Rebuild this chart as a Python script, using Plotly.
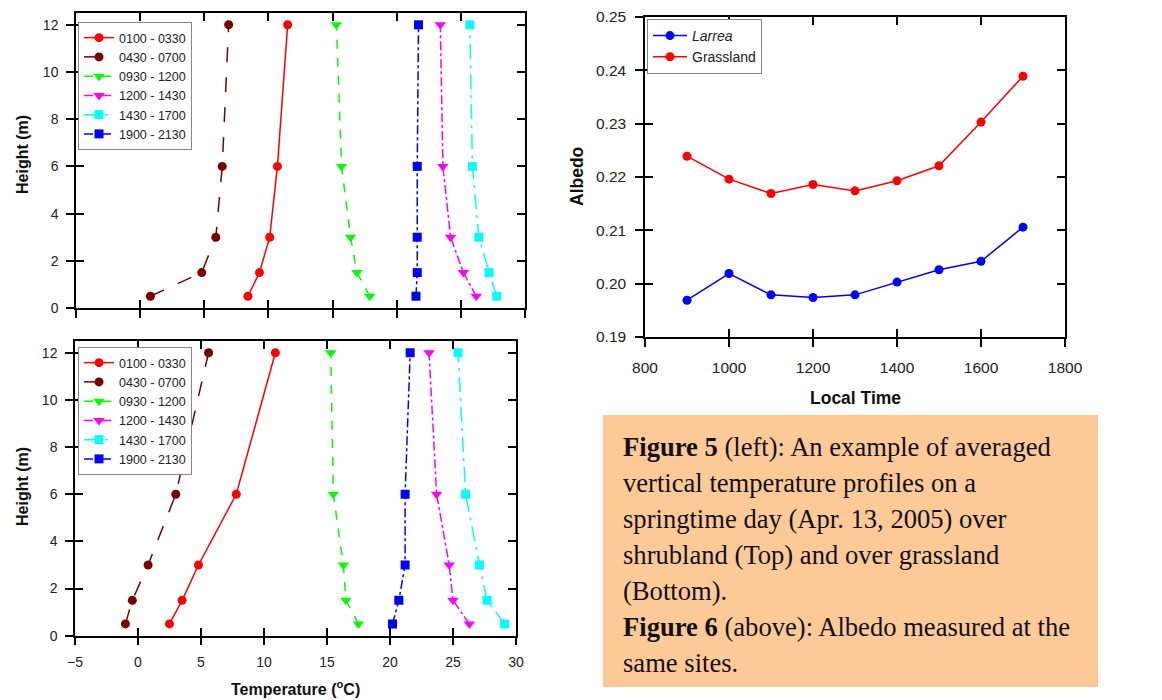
import plotly.graph_objects as go

W, H = 1162, 700

# ---------------- data ----------------
heights = [0.5, 1.5, 3, 6, 12]
periods = ["0100 - 0330", "0430 - 0700", "0930 - 1200", "1200 - 1430", "1430 - 1700", "1900 - 2130"]

# shrubland (top)
shrub_0100 = [8.4, 9.3, 10.1, 10.7, 11.5]
shrub_0430 = [0.8, 4.8, 5.9, 6.4, 6.9]
shrub_0930 = [17.9, 16.9, 16.4, 15.7, 15.3]
shrub_1200 = [26.2, 25.2, 24.2, 23.6, 23.4]
shrub_1430 = [27.8, 27.2, 26.4, 25.9, 25.7]
shrub_1900 = [21.5, 21.6, 21.6, 21.6, 21.7]

# grassland (bottom)
grass_0100 = [2.5, 3.5, 4.8, 7.8, 10.9]
grass_0430 = [-1.0, -0.45, 0.8, 3.0, 5.6]
grass_0930 = [17.5, 16.5, 16.3, 15.5, 15.3]
grass_1200 = [26.3, 25.0, 24.7, 23.7, 23.1]
grass_1430 = [29.1, 27.7, 27.1, 26.0, 25.4]
grass_1900 = [20.2, 20.7, 21.2, 21.2, 21.6]

# albedo (right)
local_time = [900, 1000, 1100, 1200, 1300, 1400, 1500, 1600, 1700]
albedo_larrea = [0.1969, 0.2019, 0.1979, 0.1974, 0.1979, 0.2003, 0.2026, 0.2042, 0.2106]
albedo_grass = [0.2239, 0.2196, 0.2169, 0.2186, 0.2174, 0.2193, 0.2221, 0.2303, 0.2389]

caption_lines = [
    "<b>Figure 5</b> (left): An example of averaged",
    "vertical temperature profiles on a",
    "springtime day (Apr. 13, 2005) over",
    "shrubland (Top) and over grassland",
    "(Bottom).",
    "<b>Figure 6</b> (above): Albedo measured at the",
    "same sites.",
]

# ---------------- styles ----------------
colors = ["#FF0000", "#7A0000", "#00FF00", "#FF00FF", "#00FFFF", "#0000FF"]
dashes = ["solid", "longdash", "dash", "dashdot", "longdashdot", "dashdot"]
symbols = ["circle", "circle", "triangle-down", "triangle-down", "square", "square"]
msizes = [9, 9, 10, 10, 9, 9]


def px(x):
    return x / W


def py(y):
    return 1 - y / H


fig = go.Figure()

shrub = [shrub_0100, shrub_0430, shrub_0930, shrub_1200, shrub_1430, shrub_1900]
grass = [grass_0100, grass_0430, grass_0930, grass_1200, grass_1430, grass_1900]

for i, (name, t) in enumerate(zip(periods, shrub)):
    fig.add_trace(go.Scatter(
        x=t, y=heights, name=name, mode="lines+markers",
        line=dict(color=colors[i], dash=dashes[i], width=1.5),
        marker=dict(color=colors[i], symbol=symbols[i], size=msizes[i]),
        xaxis="x", yaxis="y", legend="legend"))

for i, (name, t) in enumerate(zip(periods, grass)):
    fig.add_trace(go.Scatter(
        x=t, y=heights, name=name, mode="lines+markers",
        line=dict(color=colors[i], dash=dashes[i], width=1.5),
        marker=dict(color=colors[i], symbol=symbols[i], size=msizes[i]),
        xaxis="x2", yaxis="y2", legend="legend2"))

fig.add_trace(go.Scatter(
    x=local_time, y=albedo_larrea, name="<i>Larrea</i>", mode="lines+markers",
    line=dict(color="#0000FF", width=1.5), marker=dict(color="#0000FF", size=9),
    xaxis="x3", yaxis="y3", legend="legend3"))
fig.add_trace(go.Scatter(
    x=local_time, y=albedo_grass, name="Grassland", mode="lines+markers",
    line=dict(color="#FF0000", width=1.5), marker=dict(color="#FF0000", size=9),
    xaxis="x3", yaxis="y3", legend="legend3"))

# placeholder traces so the overlay tick axes get drawn
for k in (4, 5, 6):
    fig.add_trace(go.Scatter(x=[None], y=[None], xaxis=f"x{k}", yaxis=f"y{k}",
                             showlegend=False, hoverinfo="skip", mode="markers"))

tickfont_l = dict(family="Liberation Sans, Arial", size=14, color="#222")
tickfont_r = dict(family="Liberation Sans, Arial", size=15.5, color="#222")

main_ax = dict(showline=True, linecolor="black", linewidth=1.5, mirror=True,
               ticks="outside", ticklen=8, tickwidth=1.5, tickcolor="black",
               showgrid=False, zeroline=False, automargin=False)
over_ax = dict(showline=False, ticks="inside", ticklen=8, tickwidth=1.5, tickcolor="black",
               mirror="ticks", showticklabels=False, showgrid=False, zeroline=False,
               automargin=False)

dom_x1 = [px(76), px(525)]
dom_y1 = [py(308), py(13)]
dom_x2 = [px(75), px(516)]
dom_y2 = [py(635.7), py(341)]
dom_x3 = [px(645), px(1065)]
dom_y3 = [py(337), py(17)]

fig.update_layout(
    template="none",
    width=W, height=H, margin=dict(l=0, r=0, t=0, b=0, pad=0),
    paper_bgcolor="white", plot_bgcolor="white",
    xaxis=dict(main_ax, domain=dom_x1, range=[-5, 30], dtick=5, anchor="y",
               showticklabels=False),
    yaxis=dict(main_ax, domain=dom_y1, range=[0, 12.5], dtick=2, anchor="x",
               tickfont=tickfont_l, ticklabelstandoff=5),
    xaxis2=dict(main_ax, domain=dom_x2, range=[-5, 30], dtick=5, anchor="y2",
                tickfont=tickfont_l, ticklabelstandoff=5),
    yaxis2=dict(main_ax, domain=dom_y2, range=[0, 12.5], dtick=2, anchor="x2",
                tickfont=tickfont_l, ticklabelstandoff=5),
    xaxis3=dict(main_ax, domain=dom_x3, range=[800, 1800], dtick=200, anchor="y3",
                tickfont=tickfont_r, ticklabelstandoff=8),
    yaxis3=dict(main_ax, domain=dom_y3, range=[0.19, 0.25], dtick=0.01, tickformat=".2f",
                anchor="x3", tickfont=tickfont_r, ticklabelstandoff=6),
    xaxis4=dict(over_ax, overlaying="x", range=[-5, 30], dtick=5, anchor="y4"),
    yaxis4=dict(over_ax, overlaying="y", range=[0, 12.5], dtick=2, anchor="x4"),
    xaxis5=dict(over_ax, overlaying="x2", range=[-5, 30], dtick=5, anchor="y5"),
    yaxis5=dict(over_ax, overlaying="y2", range=[0, 12.5], dtick=2, anchor="x5"),
    xaxis6=dict(over_ax, overlaying="x3", range=[800, 1800], dtick=200, anchor="y6"),
    yaxis6=dict(over_ax, overlaying="y3", range=[0.19, 0.25], dtick=0.01, anchor="x6"),
    legend=dict(x=px(78), y=py(22), xanchor="left", yanchor="top",
                bgcolor="white", bordercolor="#888", borderwidth=1,
                font=dict(family="Liberation Sans, Arial", size=12.5, color="#222"),
                itemwidth=30, tracegroupgap=0),
    legend2=dict(x=px(78), y=py(347), xanchor="left", yanchor="top",
                 bgcolor="white", bordercolor="#888", borderwidth=1,
                 font=dict(family="Liberation Sans, Arial", size=12.5, color="#222"),
                 itemwidth=30, tracegroupgap=0),
    legend3=dict(x=px(647), y=py(19), xanchor="left", yanchor="top",
                 bgcolor="white", bordercolor="#888", borderwidth=1,
                 font=dict(family="Liberation Sans, Arial", size=14, color="#222"),
                 itemwidth=34, tracegroupgap=0),
)

title_font = dict(family="Liberation Sans, Arial", size=16, color="#111")
ann = [
    dict(text="<b>Height (m)</b>", x=px(22), y=py(155), textangle=-90, font=title_font),
    dict(text="<b>Height (m)</b>", x=px(22), y=py(487), textangle=-90, font=title_font),
    dict(text="<b>Temperature (<sup>o</sup>C)</b>", x=px(295), y=py(688), font=title_font),
    dict(text="<b>Albedo</b>", x=px(577), y=py(177), textangle=-90,
         font=dict(title_font, size=17.5)),
    dict(text="<b>Local Time</b>", x=px(855), y=py(398), font=dict(title_font, size=17.5)),
]
for a in ann:
    fig.add_annotation(xref="paper", yref="paper", showarrow=False,
                       xanchor="center", yanchor="middle", **a)

# caption box
fig.add_shape(type="rect", xref="paper", yref="paper",
              x0=px(603), x1=px(1098), y0=py(687), y1=py(415),
              fillcolor="#FDCA97", line=dict(width=0), layer="below")
line_centers = [445, 481, 517, 553, 589, 625, 661]
for txt, yc in zip(caption_lines, line_centers):
    fig.add_annotation(xref="paper", yref="paper", showarrow=False,
                       x=px(621), y=py(yc + 2), xanchor="left", yanchor="middle",
                       text=txt, align="left",
                       font=dict(family="Liberation Serif, Times New Roman, serif",
                                 size=26.6, color="#111"))

fig.write_html("out.html", config={"displayModeBar": False},
               post_script="document.body.style.margin='0';document.body.style.overflow='hidden';")
